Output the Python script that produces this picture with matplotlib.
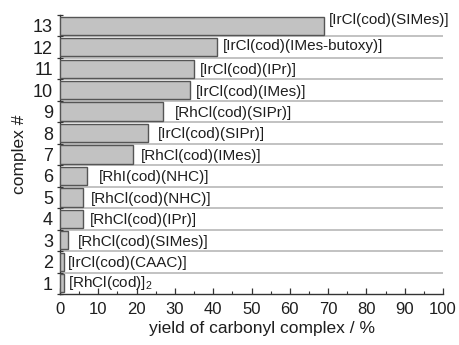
import matplotlib
matplotlib.use("Agg")
import matplotlib.pyplot as plt
import numpy as np

plt.rcParams['font.family'] = ['Liberation Sans', 'DejaVu Sans']
plt.rcParams['mathtext.fontset'] = 'custom'
plt.rcParams['mathtext.rm'] = 'Liberation Sans'
plt.rcParams['mathtext.it'] = 'Liberation Sans'

# complex number, name and yield of the carbonyl complex (%)
complex_ids = [1, 2, 3, 4, 5, 6, 7, 8, 9, 10, 11, 12, 13]
complex_names = [
    "[RhCl(cod)]$_2$",
    "[IrCl(cod)(CAAC)]",
    "[RhCl(cod)(SIMes)]",
    "[RhCl(cod)(IPr)]",
    "[RhCl(cod)(NHC)]",
    "[RhI(cod)(NHC)]",
    "[RhCl(cod)(IMes)]",
    "[IrCl(cod)(SIPr)]",
    "[RhCl(cod)(SIPr)]",
    "[IrCl(cod)(IMes)]",
    "[IrCl(cod)(IPr)]",
    "[IrCl(cod)(IMes-butoxy)]",
    "[IrCl(cod)(SIMes)]",
]
yields = [1, 1, 2, 6, 6, 7, 19, 23, 27, 34, 35, 41, 69]

# placement of each name next to its bar, in points (dx, dy)
label_dx = [3, 3, 7, 5, 6, 9, 6, 7, 8, 4, 4, 4, 3]
label_dy = [0, -1, -1, -1, -1, -1, -1, -1, -1, -1, -1, 1, 4]

fig = plt.figure(figsize=(4.59, 3.45), dpi=100)
ax = fig.add_axes([60 / 459, 51 / 345, 383 / 459, 279 / 345])

ax.barh(complex_ids, yields, height=0.85, color='#c2c2c2',
        edgecolor='#555555', linewidth=1.0, zorder=3)

# row separators
for b in np.arange(1.5, 13.0, 1.0):
    ax.axhline(b, xmin=0, xmax=1, color='#b8b8b8', linewidth=1.2, zorder=1)

for cid, name, val, dx, dy in zip(complex_ids, complex_names, yields,
                                  label_dx, label_dy):
    ax.annotate(name, xy=(val, cid), xytext=(dx, dy), textcoords='offset points',
                ha='left', va='center', fontsize=11, color='#1e1e1e', zorder=4)

ax.set_xlim(0, 100)
ax.set_ylim(0.5, 13.5)

ax.set_xticks(np.arange(0, 101, 10))
ax.set_xticks(np.arange(5, 100, 10), minor=True)
ax.tick_params(axis='x', which='major', direction='in', length=4, width=0.9,
               labelsize=12, colors='#333333', labelcolor='#1e1e1e', pad=5.5)
ax.tick_params(axis='x', which='minor', direction='in', length=2, width=0.8,
               colors='#333333')

ax.set_yticks(np.arange(0.5, 13.6, 1.0))
ax.set_yticklabels([])
ax.set_yticks(complex_ids, minor=True)
ax.set_yticklabels([str(c) for c in complex_ids], minor=True)
ax.tick_params(axis='y', which='major', direction='inout', length=5, width=0.9,
               colors='#333333')
ax.tick_params(axis='y', which='minor', length=0, labelsize=13,
               labelcolor='#1e1e1e', pad=5)

for side in ('top', 'right'):
    ax.spines[side].set_visible(False)
for side in ('left', 'bottom'):
    ax.spines[side].set_color('#333333')
    ax.spines[side].set_linewidth(1.0)

ax.set_xlabel('yield of carbonyl complex / %', fontsize=12.5, color='#1e1e1e')
ax.xaxis.set_label_coords(0.527, -0.098)
ax.set_ylabel('complex #', fontsize=12.5, color='#1e1e1e', labelpad=4)

fig.savefig('out.png', dpi=100)
